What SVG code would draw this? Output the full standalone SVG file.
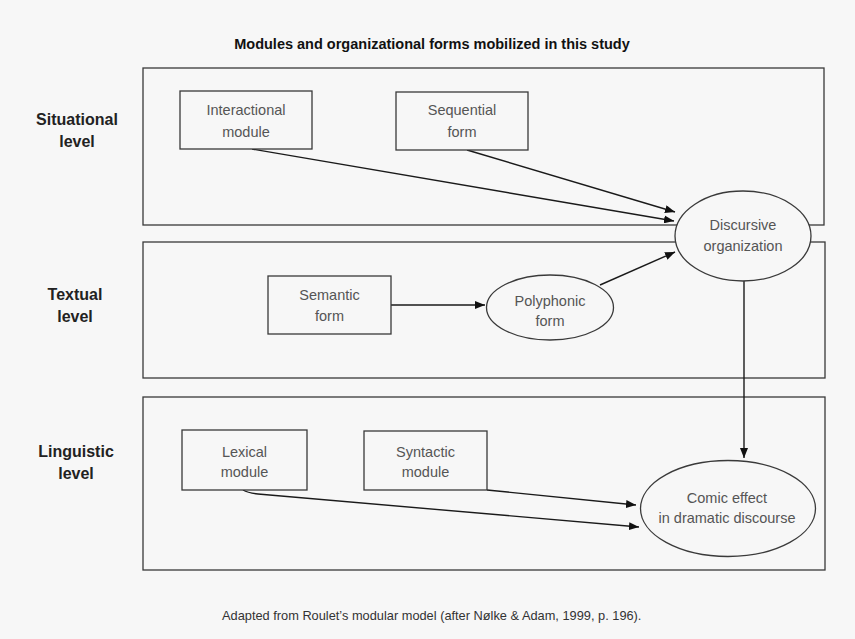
<svg xmlns="http://www.w3.org/2000/svg" width="855" height="639" viewBox="0 0 855 639">
<style>
.bg{fill:#f7f7f7}
.panel{fill:none;stroke:#3a3a3a;stroke-width:1.3}
.box{fill:#f7f7f7;stroke:#3a3a3a;stroke-width:1.3}
.conn{fill:none;stroke:#1a1a1a;stroke-width:1.4}
.t{font-family:"Liberation Sans",Arial,sans-serif;font-size:14.5px;fill:#555;text-anchor:middle}
.lab{font-family:"Liberation Sans",Arial,sans-serif;font-size:16px;font-weight:bold;fill:#222;text-anchor:middle}
.title{font-family:"Liberation Sans",Arial,sans-serif;font-size:14.5px;font-weight:bold;fill:#111;text-anchor:middle}
.cap{font-family:"Liberation Sans",Arial,sans-serif;font-size:12.8px;fill:#333}
</style>
<defs>
<marker id="ah" viewBox="0 0 10 8" refX="10" refY="4" markerWidth="10" markerHeight="8" markerUnits="userSpaceOnUse" orient="auto">
<path d="M0,0 L10,4 L0,8 Z" fill="#111"/>
</marker>
</defs>
<rect class="bg" x="0" y="0" width="855" height="639"/>
<text class="title" x="432" y="49">Modules and organizational forms mobilized in this study</text>
<g id="panels">
<rect class="panel" x="143" y="68" width="681" height="157"/>
<rect class="panel" x="143" y="242" width="682" height="136"/>
<rect class="panel" x="143" y="397" width="682" height="173"/>
</g>
<g id="labels">
<text class="lab" x="77" y="125">Situational</text>
<text class="lab" x="77" y="147">level</text>
<text class="lab" x="75" y="300">Textual</text>
<text class="lab" x="75" y="322">level</text>
<text class="lab" x="76" y="457">Linguistic</text>
<text class="lab" x="76" y="479">level</text>
</g>
<g id="connectors">
<line class="conn" x1="252" y1="149" x2="674" y2="221" marker-end="url(#ah)"/>
<line class="conn" x1="467" y1="150" x2="675" y2="212" marker-end="url(#ah)"/>
<line class="conn" x1="391" y1="305" x2="485" y2="305" marker-end="url(#ah)"/>
<line class="conn" x1="600" y1="285" x2="675" y2="252" marker-end="url(#ah)"/>
<line class="conn" x1="744" y1="281" x2="744" y2="458" marker-end="url(#ah)"/>
<line class="conn" x1="487" y1="490" x2="636" y2="505" marker-end="url(#ah)"/>
<path class="conn" d="M243,490 Q248,493 258,494 L639,527" marker-end="url(#ah)"/>
</g>
<g id="interactional">
<rect class="box" x="180" y="91" width="132" height="58"/>
<text class="t" x="246" y="115">Interactional</text>
<text class="t" x="246" y="137">module</text>
</g>
<g id="sequential">
<rect class="box" x="396" y="92" width="132" height="58"/>
<text class="t" x="462" y="115">Sequential</text>
<text class="t" x="462" y="137">form</text>
</g>
<g id="discursive">
<ellipse class="box" cx="743" cy="236" rx="68" ry="45"/>
<text class="t" x="743" y="230">Discursive</text>
<text class="t" x="743" y="251">organization</text>
</g>
<g id="semantic">
<rect class="box" x="268" y="276" width="123" height="58"/>
<text class="t" x="329.5" y="300">Semantic</text>
<text class="t" x="329.5" y="321">form</text>
</g>
<g id="polyphonic">
<ellipse class="box" cx="550" cy="307.5" rx="63.5" ry="32.5"/>
<text class="t" x="550" y="306">Polyphonic</text>
<text class="t" x="550" y="326">form</text>
</g>
<g id="lexical">
<rect class="box" x="182" y="430" width="125" height="60"/>
<text class="t" x="244.5" y="457">Lexical</text>
<text class="t" x="244.5" y="477">module</text>
</g>
<g id="syntactic">
<rect class="box" x="364" y="431" width="123" height="59"/>
<text class="t" x="425.5" y="457">Syntactic</text>
<text class="t" x="425.5" y="477">module</text>
</g>
<g id="comic">
<ellipse class="box" cx="728" cy="508.5" rx="87.5" ry="48"/>
<text class="t" x="727" y="503">Comic effect</text>
<text class="t" x="727" y="523">in dramatic discourse</text>
</g>
<text class="cap" x="222" y="620">Adapted from Roulet’s modular model (after Nølke &amp; Adam, 1999, p. 196).</text>
</svg>
